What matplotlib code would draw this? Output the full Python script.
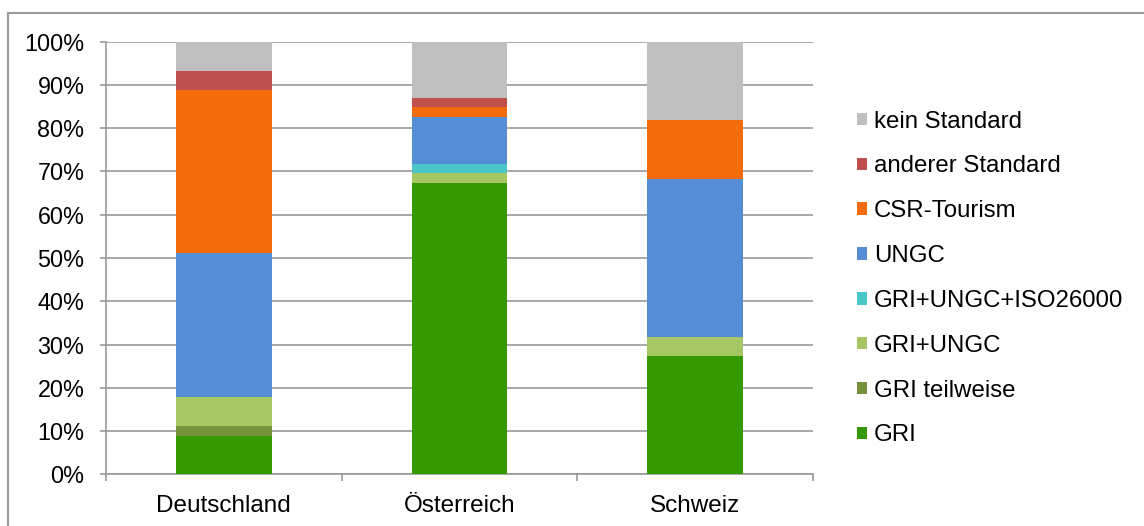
import numpy as np
import matplotlib
matplotlib.use('Agg')
import matplotlib.pyplot as plt
from matplotlib.patches import Patch
from matplotlib.lines import Line2D

plt.rcParams['font.family'] = ['Liberation Sans', 'DejaVu Sans']

countries = ["Deutschland", "Österreich", "Schweiz"]
series = ["GRI", "GRI teilweise", "GRI+UNGC", "GRI+UNGC+ISO26000",
          "UNGC", "CSR-Tourism", "anderer Standard", "kein Standard"]
colors = ["#359a00", "#76923c", "#a6c763", "#4cc7c7",
          "#558ed5", "#f46b0c", "#c0504d", "#bfbfbf"]

# shares in percent, per country (Deutschland, Österreich, Schweiz)
gri = [8.9, 67.4, 27.3]
gri_teil = [2.2, 0.0, 0.0]
gri_ungc = [6.7, 2.2, 4.5]
gri_ungc_iso = [0.0, 2.2, 0.0]
ungc = [33.3, 10.9, 36.4]
csr = [37.8, 2.2, 13.6]
anderer = [4.4, 2.2, 0.0]
kein = [6.7, 13.0, 18.2]

values = [gri, gri_teil, gri_ungc, gri_ungc_iso, ungc, csr, anderer, kein]

W, H = 1144, 526
fig = plt.figure(figsize=(W / 100, H / 100), dpi=100)
ax = fig.add_axes([106 / W, 1 - 474.3 / H, (813 - 106) / W, (474.3 - 41.7) / H])

x = np.arange(len(countries))
bottom = np.zeros(len(countries))
handles = []
for name, vals, col in zip(series, values, colors):
    v = np.array(vals)
    ax.bar(x, v, 0.405, bottom=bottom, color=col, zorder=3)
    bottom += v
    handles.append(Patch(facecolor=col, label=name))

grey = "#9a9a9a"
ax.set_xlim(-0.5, 2.5)
ax.set_ylim(0, 100)
ax.set_yticks(np.arange(0, 101, 10))
ax.set_yticklabels([f"{t}%" for t in range(0, 101, 10)])
ax.yaxis.grid(True, color=grey, linewidth=1.2, zorder=0)
ax.set_xticks(x)
ax.set_xticklabels(countries)
ax.set_xticks([-0.5, 0.5, 1.5, 2.5], minor=True)
ax.tick_params(axis='x', which='major', length=0, pad=15, labelsize=17.5)
ax.tick_params(axis='x', which='minor', length=5, width=1.2, color=grey)
ax.tick_params(axis='y', length=4.5, width=1.2, color=grey, pad=11, labelsize=16.8)
for s in ['top', 'right']:
    ax.spines[s].set_visible(False)
for s in ['left', 'bottom']:
    ax.spines[s].set_color(grey)
    ax.spines[s].set_linewidth(1.2)

leg = fig.legend(handles=handles[::-1], loc='upper left',
                 bbox_to_anchor=(847 / W, 1 - 101 / H), frameon=False,
                 fontsize=17.3, handlelength=0.42, handleheight=0.42,
                 handletextpad=0.3, labelspacing=0.95, borderaxespad=0)

# outer frame (top and left edges visible)
fig.add_artist(Line2D([8 / W, 1], [1 - 13 / H, 1 - 13 / H], color=grey, linewidth=1.5))
fig.add_artist(Line2D([8 / W, 8 / W], [0, 1 - 13 / H], color=grey, linewidth=1.5))

fig.savefig("out.png", dpi=100)
